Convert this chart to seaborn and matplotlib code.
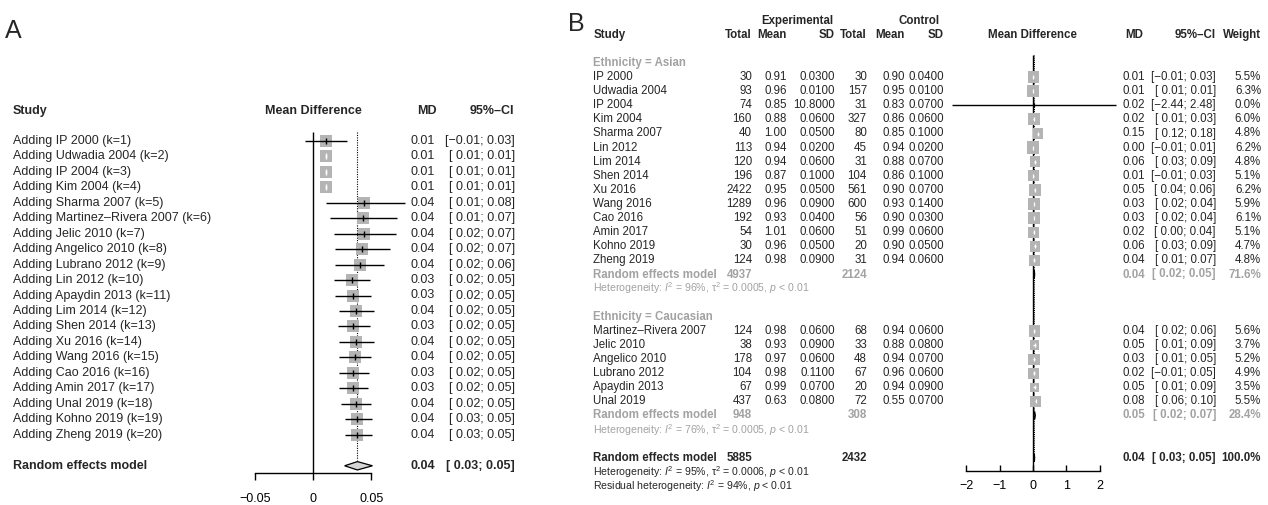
import numpy as np
import pandas as pd
import matplotlib
matplotlib.use("Agg")
import matplotlib.pyplot as plt
import matplotlib.transforms as mtransforms
import seaborn as sns

# ---------------- Panel A: cumulative meta-analysis ----------------
cum_labels = [
    "Adding IP 2000 (k=1)", "Adding Udwadia 2004 (k=2)", "Adding IP 2004 (k=3)",
    "Adding Kim 2004 (k=4)", "Adding Sharma 2007 (k=5)",
    "Adding Martinez–Rivera 2007 (k=6)", "Adding Jelic 2010 (k=7)",
    "Adding Angelico 2010 (k=8)", "Adding Lubrano 2012 (k=9)",
    "Adding Lin 2012 (k=10)", "Adding Apaydin 2013 (k=11)",
    "Adding Lim 2014 (k=12)", "Adding Shen 2014 (k=13)", "Adding Xu 2016 (k=14)",
    "Adding Wang 2016 (k=15)", "Adding Cao 2016 (k=16)", "Adding Amin 2017 (k=17)",
    "Adding Unal 2019 (k=18)", "Adding Kohno 2019 (k=19)", "Adding Zheng 2019 (k=20)",
]
cum_md = [0.011, 0.011, 0.011, 0.011, 0.044, 0.043, 0.044, 0.042, 0.040, 0.033,
          0.034, 0.037, 0.034, 0.037, 0.036, 0.034, 0.034, 0.037, 0.038, 0.038]
cum_lo = [-0.007, 0.010, 0.010, 0.010, 0.011, 0.014, 0.018, 0.019, 0.019, 0.018,
          0.019, 0.022, 0.021, 0.022, 0.022, 0.022, 0.022, 0.024, 0.027, 0.027]
cum_hi = [0.029, 0.012, 0.012, 0.012, 0.079, 0.072, 0.071, 0.066, 0.061, 0.049,
          0.050, 0.052, 0.049, 0.052, 0.050, 0.048, 0.047, 0.050, 0.051, 0.051]
cum_pooled_md, cum_pooled_lo, cum_pooled_hi = 0.038, 0.027, 0.051
cum_ticks = [-0.05, 0, 0.05]
cum_tick_labels = ["−0.05", "0", "0.05"]

# ---------------- Panel B: subgroup analysis by ethnicity ----------------
b_group = ["Asian"] * 14 + ["Caucasian"] * 6
b_study = ["IP 2000", "Udwadia 2004", "IP 2004", "Kim 2004", "Sharma 2007", "Lin 2012",
           "Lim 2014", "Shen 2014", "Xu 2016", "Wang 2016", "Cao 2016", "Amin 2017",
           "Kohno 2019", "Zheng 2019",
           "Martinez–Rivera 2007", "Jelic 2010", "Angelico 2010", "Lubrano 2012",
           "Apaydin 2013", "Unal 2019"]
b_exp_n = [30, 93, 74, 160, 40, 113, 120, 196, 2422, 1289, 192, 54, 30, 124,
           124, 38, 178, 104, 67, 437]
b_exp_mean = [0.91, 0.96, 0.85, 0.88, 1.00, 0.94, 0.94, 0.87, 0.95, 0.96, 0.93, 1.01, 0.96, 0.98,
              0.98, 0.93, 0.97, 0.98, 0.99, 0.63]
b_exp_sd = [0.03, 0.01, 10.8, 0.06, 0.05, 0.02, 0.06, 0.10, 0.05, 0.09, 0.04, 0.06, 0.05, 0.09,
            0.06, 0.09, 0.06, 0.11, 0.07, 0.08]
b_ctl_n = [30, 157, 31, 327, 80, 45, 31, 104, 561, 600, 56, 51, 20, 31,
           68, 33, 48, 67, 20, 72]
b_ctl_mean = [0.90, 0.95, 0.83, 0.86, 0.85, 0.94, 0.88, 0.86, 0.90, 0.93, 0.90, 0.99, 0.90, 0.94,
              0.94, 0.88, 0.94, 0.96, 0.94, 0.55]
b_ctl_sd = [0.04, 0.01, 0.07, 0.06, 0.10, 0.02, 0.07, 0.10, 0.07, 0.14, 0.03, 0.06, 0.05, 0.06,
            0.06, 0.08, 0.07, 0.06, 0.09, 0.07]
b_md = [0.01, 0.01, 0.02, 0.02, 0.15, 0.00, 0.06, 0.01, 0.05, 0.03, 0.03, 0.02, 0.06, 0.04,
        0.04, 0.05, 0.03, 0.02, 0.05, 0.08]
b_lo = [-0.01, 0.01, -2.44, 0.01, 0.12, -0.01, 0.03, -0.01, 0.04, 0.02, 0.02, 0.00, 0.03, 0.01,
        0.02, 0.01, 0.01, -0.01, 0.01, 0.06]
b_hi = [0.03, 0.01, 2.48, 0.03, 0.18, 0.01, 0.09, 0.03, 0.06, 0.04, 0.04, 0.04, 0.09, 0.07,
        0.06, 0.09, 0.05, 0.05, 0.09, 0.10]
b_weight = [5.5, 6.3, 0.0, 6.0, 4.8, 6.2, 4.8, 5.1, 6.2, 5.9, 6.1, 5.1, 4.7, 4.8,
            5.6, 3.7, 5.2, 4.9, 3.5, 5.5]

sub_names = ["Asian", "Caucasian"]
sub_exp_n = [4937, 948]
sub_ctl_n = [2124, 308]
sub_md = [0.04, 0.05]
sub_lo = [0.02, 0.02]
sub_hi = [0.05, 0.07]
sub_weight = [71.6, 28.4]
sub_i2 = [96, 76]
sub_tau2 = ["0.0005", "0.0005"]

all_exp_n, all_ctl_n = 5885, 2432
all_md, all_lo, all_hi, all_weight = 0.04, 0.03, 0.05, 100.0
all_i2, all_tau2, resid_i2 = 95, "0.0006", 94
b_ticks = [-2, -1, 0, 1, 2]

# ---------------- style ----------------
sns.set_style("white")
plt.rcParams["font.family"] = ["Liberation Sans", "DejaVu Sans"]
plt.rcParams["mathtext.fontset"] = "custom"
plt.rcParams["mathtext.rm"] = "Liberation Sans"
plt.rcParams["mathtext.it"] = "Liberation Sans:italic"
plt.rcParams["mathtext.bf"] = "Liberation Sans:bold"

SQUARE = "#b4b4b4"
GREY = "#a2a2a2"
DIAMOND = "#d6d6d6"

W, H = 1268, 505
fig = plt.figure(figsize=(W / 100, H / 100), dpi=100)


def add_axes_px(x0, x1, y_top, y_bot):
    return fig.add_axes([x0 / W, 1 - y_bot / H, (x1 - x0) / W, (y_bot - y_top) / H])


def fmt(v):
    return f"{v:.2f}".replace("-", "−")


def fmt_ci(lo, hi):
    pad = " " if lo >= 0 else ""
    return f"[{pad}{fmt(lo)}; {fmt(hi)}]"


def diamond(ax, md, lo, hi, y, half, face, edge):
    ax.fill([lo, md, hi, md], [y, y - half, y, y + half],
            facecolor=face, edgecolor=edge, linewidth=0.9, zorder=5)


# ======================= Panel A =======================
A_ZERO, A_SCALE = 313.3, 1160.0          # pixel of 0 and pixels per unit
A_ROW0, A_STEP = 140.7, 15.48            # pixel of first row and row spacing
A_X0, A_X1, A_TOP, A_BOT = 230, 420, 100, 473.3
axA = add_axes_px(A_X0, A_X1, A_TOP, A_BOT)
axA.set_xlim((A_X0 - A_ZERO) / A_SCALE, (A_X1 - A_ZERO) / A_SCALE)
axA.set_ylim((A_BOT - A_ROW0) / A_STEP, (A_TOP - A_ROW0) / A_STEP)
axA.patch.set_alpha(0)

nA = len(cum_labels)
rowsA = np.arange(nA)
dfA = pd.DataFrame({"md": cum_md, "row": rowsA})
sns.scatterplot(data=dfA, x="md", y="row", marker="s", s=80, color=SQUARE,
                linewidth=0, ax=axA, legend=False, zorder=3)
sq_px = 12
for r, m, lo, hi in zip(rowsA, cum_md, cum_lo, cum_hi):
    inside = (hi - lo) * A_SCALE < sq_px
    col = "white" if inside else "black"
    axA.hlines(r, lo, hi, color=col, linewidth=1.0, zorder=4)
    axA.plot([m], [r], marker="|", ms=4.5, mew=1.0, color=col, zorder=4)

pooled_row = nA + 1
diamond(axA, cum_pooled_md, cum_pooled_lo, cum_pooled_hi, pooled_row, 0.27, DIAMOND, "black")
axA.vlines(0, -0.58, axA.get_ylim()[0], color="black", linewidth=1.0, zorder=2)
axA.vlines(cum_pooled_md, -0.58, pooled_row - 0.35, color="black", linewidth=0.8,
           linestyles=(0, (1, 1.2)), zorder=2)

axA.set_xlabel("")
axA.set_ylabel("")
axA.set_yticks([])
for s in ["left", "right", "top"]:
    axA.spines[s].set_visible(False)
axA.spines["bottom"].set_bounds(cum_ticks[0], cum_ticks[-1])
axA.spines["bottom"].set_linewidth(1.0)
axA.spines["bottom"].set_color("black")
axA.set_xticks(cum_ticks)
axA.set_xticklabels(cum_tick_labels)
axA.tick_params(axis="x", bottom=True, direction="out", length=5, width=1.0,
                pad=9, labelsize=9, colors="black")

tA = mtransforms.blended_transform_factory(fig.transFigure, axA.transData)
FA = 9
def textA(px, row, s, **kw):
    kw.setdefault("fontsize", FA)
    kw.setdefault("va", "center")
    axA.text(px / W, row, s, transform=tA, clip_on=False, **kw)

textA(12.7, -1.95, "Study", fontweight="bold")
textA(313.3, -1.95, "Mean Difference", fontweight="bold", ha="center")
textA(427, -1.95, "MD", fontweight="bold", ha="center")
textA(514, -1.95, "95%–CI", fontweight="bold", ha="right")
for r, lab, m, lo, hi in zip(rowsA, cum_labels, cum_md, cum_lo, cum_hi):
    textA(12.7, r, lab)
    textA(435, r, fmt(m), ha="right")
    textA(515, r, fmt_ci(lo, hi), ha="right")
textA(12.7, pooled_row, "Random effects model", fontweight="bold")
textA(435, pooled_row, fmt(cum_pooled_md), ha="right", fontweight="bold")
textA(515, pooled_row, fmt_ci(cum_pooled_lo, cum_pooled_hi), ha="right", fontweight="bold")

fig.text(5 / W, 1 - 31 / H, "A", fontsize=18, va="center", ha="left")

# ======================= Panel B =======================
B_ZERO, B_SCALE = 1033.0, 33.3
B_ROW0, B_STEP = 63.0, 14.1
B_X0, B_X1, B_TOP, B_BOT = 940, 1125, 45, 470.7
axB = add_axes_px(B_X0, B_X1, B_TOP, B_BOT)
axB.set_xlim((B_X0 - B_ZERO) / B_SCALE, (B_X1 - B_ZERO) / B_SCALE)
axB.set_ylim((B_BOT - B_ROW0) / B_STEP, (B_TOP - B_ROW0) / B_STEP)
axB.patch.set_alpha(0)

# row layout: subgroup header, studies, subgroup summary, heterogeneity, blank
rows_study = []
rows_head, rows_sum, rows_het = [], [], []
r = 0
for g in sub_names:
    rows_head.append(r)
    r += 1
    for grp in b_group:
        if grp == g:
            rows_study.append(r)
            r += 1
    rows_sum.append(r)
    rows_het.append(r + 1)
    r += 3
row_all = r
rows_study = np.array(rows_study)

# square side grows with the square root of the study weight (area ~ weight)
SIDE_PER_ROOT_W = 4.9  # pixels
area_per_weight = (SIDE_PER_ROOT_W * 72 / fig.dpi) ** 2
dfB = pd.DataFrame({"md": b_md, "row": rows_study, "weight": b_weight})
sns.scatterplot(data=dfB, x="md", y="row", marker="s",
                s=area_per_weight * np.asarray(b_weight), color=SQUARE,
                linewidth=0, ax=axB, legend=False, zorder=3)
for rr, m, lo, hi, w in zip(rows_study, b_md, b_lo, b_hi, b_weight):
    side = SIDE_PER_ROOT_W * np.sqrt(w)
    inside = (hi - lo) * B_SCALE < side
    col = "white" if inside else "black"
    axB.hlines(rr, lo, hi, color=col, linewidth=1.0, zorder=4)
    axB.plot([m], [rr], marker="|", ms=2.5, mew=0.9, color=col, zorder=4)

for rs, m, lo, hi in zip(rows_sum, sub_md, sub_lo, sub_hi):
    diamond(axB, m, lo, hi, rs, 0.28, GREY, "black")
diamond(axB, all_md, all_lo, all_hi, row_all, 0.28, GREY, "black")
axB.vlines(0, -0.57, axB.get_ylim()[0], color="black", linewidth=1.0, zorder=2)
axB.vlines(all_md, -0.57, row_all - 0.3, color="black", linewidth=0.7,
           linestyles=(0, (1, 1.2)), zorder=2)

axB.set_xlabel("")
axB.set_ylabel("")
axB.set_yticks([])
for s in ["left", "right", "top"]:
    axB.spines[s].set_visible(False)
axB.spines["bottom"].set_bounds(b_ticks[0], b_ticks[-1])
axB.spines["bottom"].set_linewidth(1.0)
axB.spines["bottom"].set_color("black")
axB.set_xticks(b_ticks)
axB.set_xticklabels([str(t).replace("-", "−") for t in b_ticks])
axB.tick_params(axis="x", bottom=True, direction="in", length=4.5, width=1.0,
                pad=6.5, labelsize=9, colors="black")

tB = mtransforms.blended_transform_factory(fig.transFigure, axB.transData)
FB = 8.3
FH = 7.6
def textB(px, row, s, **kw):
    kw.setdefault("fontsize", FB)
    kw.setdefault("va", "center")
    axB.text(px / W, row, s, transform=tB, clip_on=False, **kw)

X_STUDY = 593.3
X_EN, X_EM, X_ES, X_CN, X_CM, X_CS = 752, 787, 835, 867, 905, 944
X_MD, X_CI, X_W = 1145, 1216, 1261

hr, hr2 = -2.0, -3.0
textB(797, hr2, "Experimental", fontweight="bold", ha="center")
textB(919, hr2, "Control", fontweight="bold", ha="center")
textB(X_STUDY, hr, "Study", fontweight="bold")
for px, s in [(X_EN, "Total"), (X_EM, "Mean"), (X_ES, "SD"),
              (X_CN, "Total"), (X_CM, "Mean"), (X_CS, "SD")]:
    textB(px, hr, s, fontweight="bold", ha="right")
textB(1032, hr, "Mean Difference", fontweight="bold", ha="center")
textB(1134, hr, "MD", fontweight="bold", ha="center")
textB(X_CI, hr, "95%–CI", fontweight="bold", ha="right")
textB(X_W, hr, "Weight", fontweight="bold", ha="right")

for i, rr in enumerate(rows_study):
    textB(X_STUDY, rr, b_study[i])
    textB(X_EN, rr, f"{b_exp_n[i]}", ha="right")
    textB(X_EM, rr, f"{b_exp_mean[i]:.2f}", ha="right")
    textB(X_ES, rr, f"{b_exp_sd[i]:.4f}", ha="right")
    textB(X_CN, rr, f"{b_ctl_n[i]}", ha="right")
    textB(X_CM, rr, f"{b_ctl_mean[i]:.2f}", ha="right")
    textB(X_CS, rr, f"{b_ctl_sd[i]:.4f}", ha="right")
    textB(X_MD, rr, fmt(b_md[i]), ha="right")
    textB(X_CI, rr, fmt_ci(b_lo[i], b_hi[i]), ha="right")
    textB(X_W, rr, f"{b_weight[i]:.1f}%", ha="right")

for k, g in enumerate(sub_names):
    textB(X_STUDY, rows_head[k], f"Ethnicity = {g}", color=GREY, fontweight="bold")
    rs = rows_sum[k]
    textB(X_STUDY, rs, "Random effects model", color=GREY, fontweight="bold")
    textB(X_EN, rs, f"{sub_exp_n[k]}", color=GREY, fontweight="bold", ha="right")
    textB(X_CN, rs, f"{sub_ctl_n[k]}", color=GREY, fontweight="bold", ha="right")
    textB(X_MD, rs, fmt(sub_md[k]), color=GREY, fontweight="bold", ha="right")
    textB(X_CI, rs, fmt_ci(sub_lo[k], sub_hi[k]), color=GREY, fontweight="bold", ha="right")
    textB(X_W, rs, f"{sub_weight[k]:.1f}%", color=GREY, fontweight="bold", ha="right")
    textB(X_STUDY, rows_het[k],
          f"Heterogeneity: $I^2$ = {sub_i2[k]}%, τ$^2$ = {sub_tau2[k]}, $p$ < 0.01",
          color=GREY, fontsize=FH)

textB(X_STUDY, row_all, "Random effects model", fontweight="bold")
textB(X_EN, row_all, f"{all_exp_n}", fontweight="bold", ha="right")
textB(X_CN, row_all, f"{all_ctl_n}", fontweight="bold", ha="right")
textB(X_MD, row_all, fmt(all_md), fontweight="bold", ha="right")
textB(X_CI, row_all, fmt_ci(all_lo, all_hi), fontweight="bold", ha="right")
textB(X_W, row_all, f"{all_weight:.1f}%", fontweight="bold", ha="right")
textB(X_STUDY, row_all + 1,
      f"Heterogeneity: $I^2$ = {all_i2}%, τ$^2$ = {all_tau2}, $p$ < 0.01", fontsize=FH)
textB(X_STUDY, row_all + 2,
      f"Residual heterogeneity: $I^2$ = {resid_i2}%, $p$ < 0.01", fontsize=FH)

fig.text(568 / W, 1 - 24 / H, "B", fontsize=18, va="center", ha="left")

fig.savefig("out.png", dpi=100)
